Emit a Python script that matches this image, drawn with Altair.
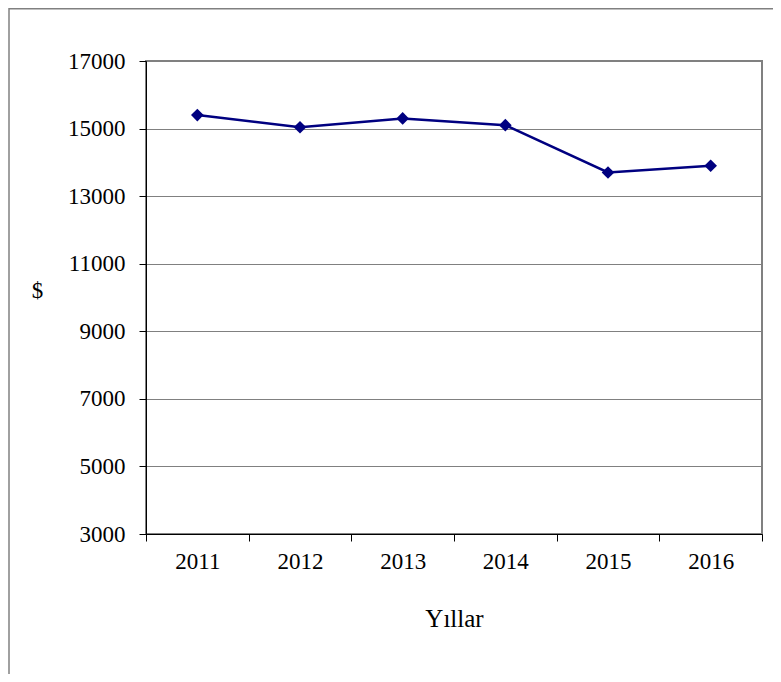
import altair as alt
import pandas as pd

years = ["2011", "2012", "2013", "2014", "2015", "2016"]
values = [15400, 15040, 15300, 15100, 13700, 13900]
y_ticks = [3000, 5000, 7000, 9000, 11000, 13000, 15000, 17000]

df = pd.DataFrame({"year": years, "value": values})

FONT = "Liberation Serif"

x_enc = alt.X(
    "year:O",
    sort=years,
    bandPosition=0.5,
    scale=alt.Scale(type="band", paddingInner=0, paddingOuter=0),
    axis=alt.Axis(
        title="Yıllar",
        labelAngle=0,
        tickBand="extent",
        grid=False,
        domainColor="black",
        tickColor="black",
        tickSize=7,
        labelPadding=9,
        labelFontSize=23,
        labelFont=FONT,
        labelColor="black",
        titleFont=FONT,
        titleFontSize=25,
        titleFontWeight="normal",
        titleColor="black",
        titleBaseline="alphabetic",
        titleY=92,
    ),
)
y_enc = alt.Y(
    "value:Q",
    scale=alt.Scale(domain=[3000, 17000], nice=False),
    axis=alt.Axis(
        title="$",
        values=y_ticks,
        format="d",
        grid=True,
        gridColor="#808080",
        gridWidth=1,
        domainColor="black",
        tickColor="black",
        tickSize=7,
        labelPadding=14,
        labelFontSize=23,
        labelFont=FONT,
        labelColor="black",
        titleFont=FONT,
        titleFontSize=23,
        titleFontWeight="normal",
        titleColor="black",
        titleAngle=0,
        titleAlign="center",
        titleBaseline="middle",
        titleX=-109,
        titleY=229,
    ),
)

base = alt.Chart(df)
line = base.mark_line(color="#000080", strokeWidth=2.5).encode(x=x_enc, y=y_enc)
pts = base.mark_point(shape="diamond", filled=True, color="#000080", size=160, opacity=1).encode(
    x=alt.X("year:O", sort=years, bandPosition=0.5), y="value:Q"
)

frame_df = pd.DataFrame({"k": [0]})
frame_top = alt.Chart(frame_df).mark_rule(color="#808080", strokeWidth=1.5).encode(
    x=alt.value(-137), x2=alt.value(700), y=alt.value(-52.2)
)
frame_left = alt.Chart(frame_df).mark_rule(color="#808080", strokeWidth=1.5).encode(
    x=alt.value(-137), y=alt.value(-52.9), y2=alt.value(700)
)

chart = (
    alt.layer(frame_top, frame_left, line, pts)
    .properties(
        width=616,
        height=473,
        autosize=alt.AutoSizeParams(type="none"),
        padding={"left": 138, "top": 53, "right": 11, "bottom": 140},
        background="white",
    )
    .configure_view(stroke="#808080", strokeWidth=2)
)

chart.save("out.html", embed_options={"renderer": "svg", "actions": False})
